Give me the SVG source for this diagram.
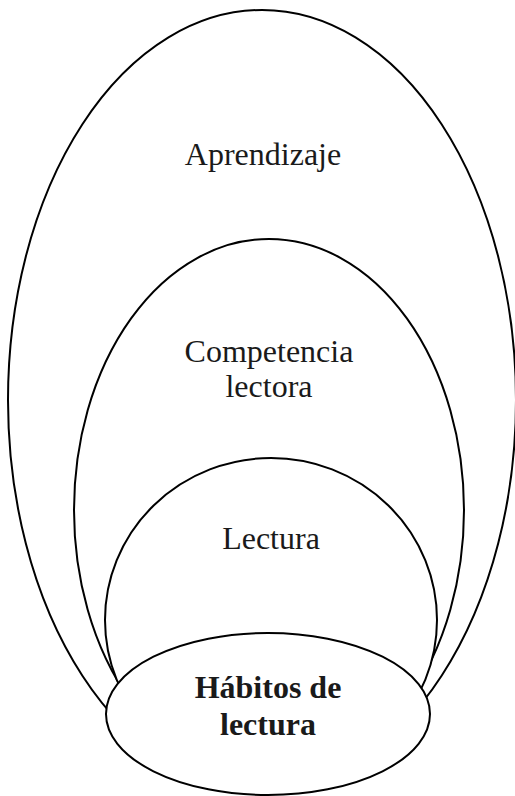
<svg xmlns="http://www.w3.org/2000/svg" width="515" height="796" viewBox="0 0 515 796">
<style>
.sh{fill:#fff;stroke:#000;stroke-width:2}
.t{font-family:"Liberation Serif","Times New Roman",serif;font-size:32px;fill:#1a1a1a;text-anchor:middle}
.b{font-weight:bold}
</style>
<rect width="515" height="796" fill="#fff"/>
<g id="aprendizaje">
<ellipse class="sh" cx="262" cy="400" rx="254" ry="390"/>
<text class="t" x="263" y="165">Aprendizaje</text>
</g>
<g id="competencia">
<ellipse class="sh" cx="269" cy="510" rx="195" ry="271"/>
<text class="t" x="269" y="362">Competencia</text>
<text class="t" x="269" y="397">lectora</text>
</g>
<g id="lectura">
<ellipse class="sh" cx="271" cy="620" rx="166" ry="162"/>
<text class="t" x="271" y="549">Lectura</text>
</g>
<g id="habitos">
<ellipse class="sh" cx="268" cy="714" rx="162" ry="81"/>
<text class="t b" x="268" y="698">Hábitos de</text>
<text class="t b" x="268" y="735">lectura</text>
</g>
<g id="connectors"></g>
</svg>
